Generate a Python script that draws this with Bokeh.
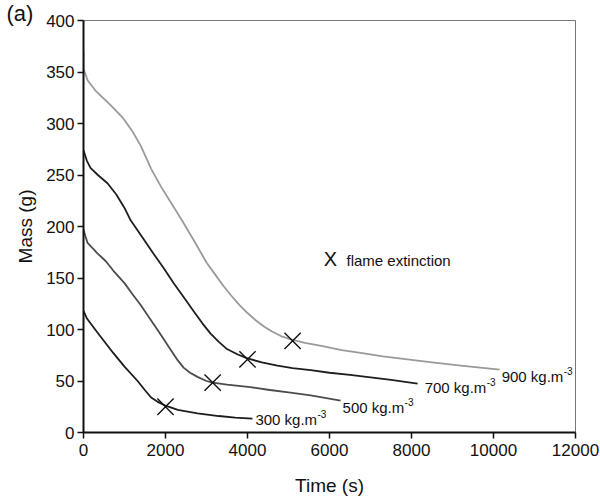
from bokeh.plotting import figure
from bokeh.models import Range1d, SingleIntervalTicker
from bokeh.core.properties import value
from bokeh.embed import file_html
from bokeh.resources import INLINE

# ---- data ----
time_300 = [0, 80, 170, 400, 730, 1000, 1320, 1500, 1650, 1800, 2000, 2300, 2780, 3300, 3700, 4120]
mass_300 = [118, 111, 106, 94, 77, 64, 50, 41, 34, 30, 26, 22, 18.5, 16, 14.5, 13.5]

time_500 = [0, 50, 100, 340, 550, 730, 1000, 1200, 1390, 1630, 1800, 1950, 2150, 2300, 2440,
            2600, 2780, 3000, 3150, 3500, 4070, 4500, 5000, 5540, 6270]
mass_500 = [197, 190, 184, 174, 166, 157, 145, 134, 124, 110, 100, 91, 79, 70, 63,
            58, 54, 50, 48.5, 46.5, 44, 41.5, 39, 36, 31]

time_700 = [0, 80, 170, 350, 585, 800, 1000, 1150, 1460, 1700, 1950, 2200, 2450, 2700, 2900,
            3100, 3300, 3500, 3750, 4000, 4350, 4730, 5100, 5540, 6000, 6500, 7000, 7500, 8150]
mass_700 = [274, 264, 257, 250, 242, 231, 218, 206, 188, 174, 160, 145, 131, 117, 106,
            96, 88, 81, 76, 72, 68, 65, 62.5, 60.5, 58, 56, 53.5, 51, 47.5]

time_900 = [0, 0, 100, 290, 630, 950, 1200, 1400, 1650, 1900, 2150, 2400, 2700, 3000, 3200,
            3400, 3600, 3800, 4000, 4200, 4400, 4600, 4850, 5100, 5400, 5800, 6300, 6800,
            7300, 7900, 8500, 9200, 10150]
mass_900 = [370, 353, 342, 332, 319, 306, 292, 278, 256, 238, 222, 206, 186, 165, 154,
            143, 133, 124, 116, 109, 103, 98, 93, 90, 87, 84, 80, 77,
            74, 71, 68, 65, 61]

ext_time = [2000, 3150, 4000, 5100]
ext_mass = [25, 48.5, 71, 89]

series_names = ["300 kg.m", "500 kg.m", "700 kg.m", "900 kg.m"]
superscript = "-3"
panel_tag = "(a)"

x_ticks_interval = 2000
y_ticks_interval = 50

# ---- styling / layout ----
FONT = "Liberation Sans"
colors = ["#1c1c1c", "#4c4c4c", "#1e1e1e", "#9a9a9a"]
label_dx = [3, 2, 7, 2]
label_dy = [1, 7, 4, 7]

p = figure(width=600, height=502, output_backend="svg", toolbar_location=None,
           x_range=Range1d(0, 12000), y_range=Range1d(0, 400),
           min_border_left=83, min_border_right=25, min_border_top=20, min_border_bottom=70)
p.background_fill_color = "white"
p.border_fill_color = "white"
p.outline_line_color = "#777777"
p.outline_line_width = 1
p.xgrid.visible = False
p.ygrid.visible = False

p.title.text = panel_tag
p.title.align = "left"
p.title.offset = -77
p.title.standoff = -10
p.title.text_line_height = 0.7
p.title.text_font = FONT
p.title.text_font_size = "22px"
p.title.text_font_style = "normal"
p.title.text_color = "#111111"
p.title.vertical_align = "bottom"

p.xaxis.ticker = SingleIntervalTicker(interval=x_ticks_interval)
p.yaxis.ticker = SingleIntervalTicker(interval=y_ticks_interval)
for ax in (p.xaxis[0], p.yaxis[0]):
    ax.minor_tick_line_color = None
    ax.major_tick_in = 0
    ax.major_tick_out = 6
    ax.major_tick_line_color = "#111111"
    ax.major_tick_line_width = 1.5
    ax.axis_line_color = "#111111"
    ax.axis_line_width = 2
    ax.major_label_text_font = FONT
    ax.major_label_text_font_size = "17px"
    ax.major_label_text_color = "#111111"
    ax.axis_label_text_font = FONT
    ax.axis_label_text_font_size = "19px"
    ax.axis_label_text_font_style = "normal"
    ax.axis_label_text_color = "#111111"
p.xaxis.axis_label = "Time (s)"
p.yaxis.axis_label = "Mass (g)"
p.xaxis.major_label_standoff = 5
p.yaxis.major_label_standoff = 3
p.xaxis.axis_label_standoff = 16
p.yaxis.axis_label_standoff = 7

times = [time_300, time_500, time_700, time_900]
masses = [mass_300, mass_500, mass_700, mass_900]
for t, m, c, name, dx, dy in zip(times, masses, colors, series_names, label_dx, label_dy):
    p.line(t, m, line_color=c, line_width=1.8, line_join="round")
    p.text(x=[t[-1]], y=[m[-1]], text=[name], x_offset=dx, y_offset=dy,
           text_font=value(FONT), text_font_size="15px", text_color="#111111",
           text_baseline="middle", text_align="left")
    p.text(x=[t[-1]], y=[m[-1]], text=[superscript], x_offset=dx + 62, y_offset=dy - 6,
           text_font=value(FONT), text_font_size="10px", text_color="#111111",
           text_baseline="middle", text_align="left")

p.scatter(ext_time, ext_mass, marker="x", size=23, line_color="#111111", line_width=1.4)

# legend note
p.text(x=[6024], y=[168], text=["X"], text_font=value(FONT), text_font_size="20px",
       text_color="#111111", text_baseline="middle", text_align="center")
p.text(x=[6024], y=[168], text=["flame extinction"], x_offset=16, y_offset=1,
       text_font=value(FONT), text_font_size="15px", text_color="#111111",
       text_baseline="middle", text_align="left")

open("out.html", "w").write(file_html(p, INLINE))
